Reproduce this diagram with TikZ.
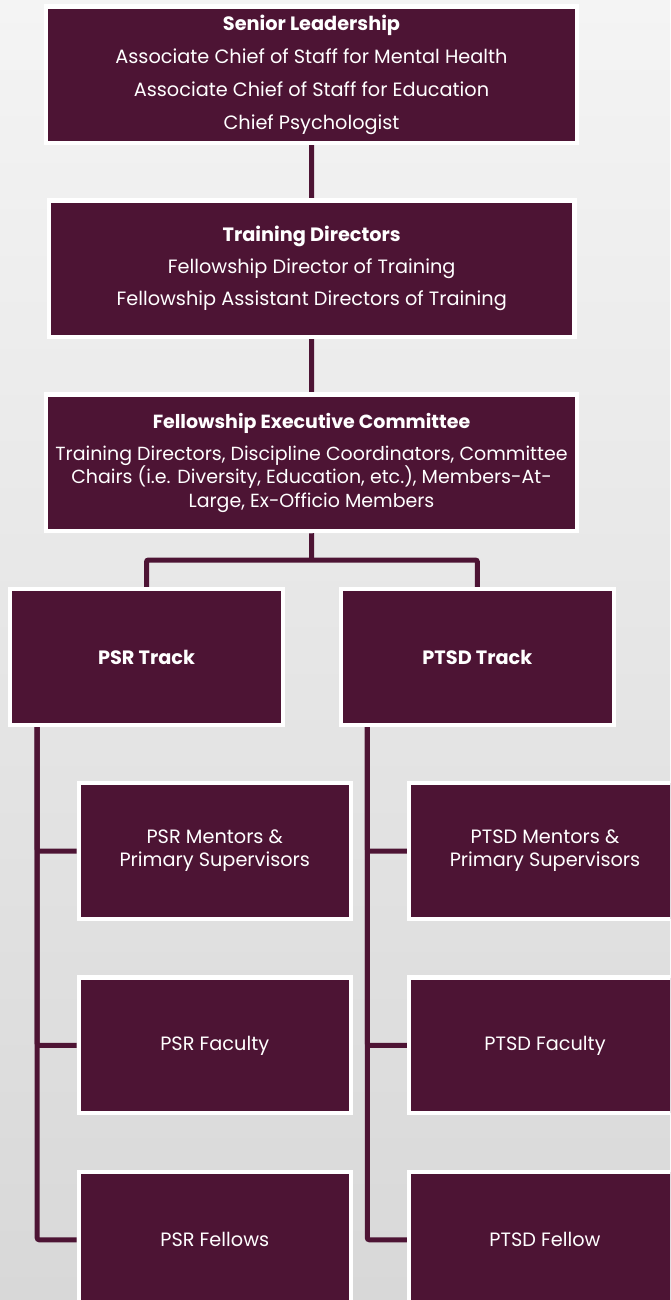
\documentclass[tikz,border=0pt]{standalone}
\usepackage{fontspec}
\setmainfont{Poppins}
\definecolor{boxfill}{RGB}{77,20,52}
\definecolor{bgtop}{RGB}{244,244,244}
\definecolor{bgbot}{RGB}{216,216,216}
\pgfdeclarelayer{bg}
\pgfdeclarelayer{lines}
\pgfsetlayers{bg,lines,main}
\begin{document}
\begin{tikzpicture}[x=1pt,y=-1pt,
  box/.style={draw=white, line width=4.3pt, fill=boxfill, text=white, align=center, inner sep=0pt},
  bigbox/.style={box, minimum width=530.7pt, minimum height=136.5pt},
  trackbox/.style={box, minimum width=272.8pt, minimum height=135.7pt, font=\fontsize{19.3}{23}\selectfont\bfseries},
  subbox/.style={box, minimum width=272.2pt, minimum height=135.7pt, font=\fontsize{19.3}{23}\selectfont},
  conn/.style={draw=boxfill, line width=5pt, rounded corners=2pt}]
\useasboundingbox (0,0) rectangle (670,1300);
\begin{pgfonlayer}{bg}
\shade[top color=bgtop, bottom color=bgbot] (0,0) rectangle (670,1300);
\end{pgfonlayer}
\clip (0,0) rectangle (670,1300);

\node[bigbox, font=\fontsize{19.3}{33}\selectfont] (sl) at (311.5,74.75)
  {\textbf{Senior Leadership}\\Associate Chief of Staff for Mental Health\\Associate Chief of Staff for Education\\Chief Psychologist};
\node[bigbox, minimum width=525.7pt, font=\fontsize{19.3}{32}\selectfont] (td) at (311.7,268.65)
  {\textbf{Training Directors}\\Fellowship Director of Training\\Fellowship Assistant Directors of Training};
\node[bigbox, font=\fontsize{19}{23.5}\selectfont] (fec) at (311.5,462.85)
  {\textbf{Fellowship Executive Committee}\\[8.5pt]Training Directors, Discipline Coordinators, Committee\\Chairs (i.e. Diversity, Education, etc.), Members-At-\\Large, Ex-Officio Members};

\node[trackbox] (psr) at (146.5,657) {PSR Track};
\node[trackbox] (ptsd) at (477.35,657) {PTSD Track};

\node[subbox] (psrm) at (214.75,851) {PSR Mentors \&\\Primary Supervisors};
\node[subbox] (psrf) at (214.75,1045.35) {PSR Faculty};
\node[subbox] (psrfe) at (214.75,1239.75) {PSR Fellows};
\node[subbox] (ptsdm) at (545,851) {PTSD Mentors \&\\Primary Supervisors};
\node[subbox] (ptsdf) at (545,1045.35) {PTSD Faculty};
\node[subbox] (ptsdfe) at (545,1239.75) {PTSD Fellow};

\coordinate (split) at (311.6,560);
\coordinate (spineL) at (37.2,0);
\coordinate (spineR) at (367.3,0);

\begin{pgfonlayer}{lines}
\draw[conn] (sl.south) -- (td.north);
\draw[conn] (td.south) -- (fec.north);
\draw[conn] (fec.south) -- (split);
\draw[conn] (psr.north) |- (split) -| (ptsd.north);
\draw[conn] (psr.south -| spineL) |- (psrm.west);
\draw[conn] (psr.south -| spineL) |- (psrf.west);
\draw[conn] (psr.south -| spineL) |- (psrfe.west);
\draw[conn] (ptsd.south -| spineR) |- (ptsdm.west);
\draw[conn] (ptsd.south -| spineR) |- (ptsdf.west);
\draw[conn] (ptsd.south -| spineR) |- (ptsdfe.west);
\end{pgfonlayer}
\end{tikzpicture}
\end{document}
